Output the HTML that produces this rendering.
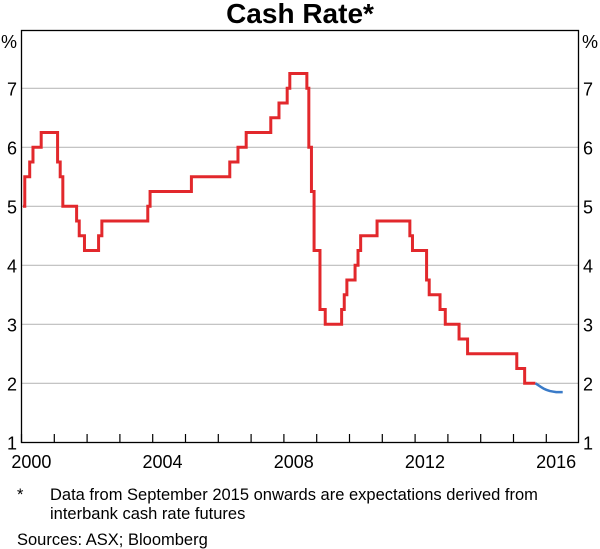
<!DOCTYPE html>
<html><head><meta charset="utf-8"><style>
body{margin:0;background:#fff;width:600px;height:549px;overflow:hidden;font-family:"Liberation Sans",Arial,sans-serif;}
svg{display:block}
</style></head><body>
<svg width="600" height="549" font-family="Liberation Sans, Arial, sans-serif">
<text x="300" y="23" text-anchor="middle" font-size="28" font-weight="bold">Cash Rate*</text>
<g id="grid"></g>
<g id="series"></g>
<rect x="21.5" y="30.5" width="557" height="412" fill="none" stroke="#000" stroke-width="1.3"/>
<g id="axes" font-size="18"></g>
<text x="1" y="48" font-size="18">%</text>
<text x="582" y="48" font-size="18">%</text>
<text x="17" y="500" font-size="16.5">*</text>
<text x="50" y="500" font-size="16.5">Data from September 2015 onwards are expectations derived from</text>
<text x="50" y="519" font-size="16.5">interbank cash rate futures</text>
<text x="17" y="545" font-size="16.5">Sources:  ASX; Bloomberg</text>
</svg>
<script>
const yTicks=[1,2,3,4,5,6,7];
const xTickYears=[2000,2001,2002,2003,2004,2005,2006,2007,2008,2009,2010,2011,2012,2013,2014,2015,2016];
const xLabelYears=[2000,2004,2008,2012,2016];
const rateDates=[1999.9,2000.1,2000.25,2000.35,2000.6,2001.1,2001.18,2001.26,2001.68,2001.76,2001.92,2002.35,2002.45,2003.85,2003.92,2005.18,2006.35,2006.6,2006.85,2007.6,2007.85,2008.1,2008.18,2008.7,2008.76,2008.84,2008.92,2009.1,2009.26,2009.76,2009.84,2009.92,2010.17,2010.26,2010.34,2010.84,2011.84,2011.92,2012.35,2012.43,2012.76,2012.92,2013.34,2013.6,2015.1,2015.34,2015.67];
const rateValues=[5.0,5.5,5.75,6.0,6.25,5.75,5.5,5.0,4.75,4.5,4.25,4.5,4.75,5.0,5.25,5.5,5.75,6.0,6.25,6.5,6.75,7.0,7.25,7.0,6.0,5.25,4.25,3.25,3.0,3.25,3.5,3.75,4.0,4.25,4.5,4.75,4.5,4.25,3.75,3.5,3.25,3.0,2.75,2.5,2.25,2.0,2.0];
const expDates=[2015.67,2015.75,2015.83,2015.92,2016.0,2016.1,2016.2,2016.3,2016.4,2016.5];
const expValues=[2.0,1.97,1.94,1.91,1.89,1.87,1.86,1.85,1.85,1.85];
const NS='http://www.w3.org/2000/svg';
const X=t=>21.5+(t-2000)*32.8;
const Y=v=>442.3-(v-1)*59;
function mk(tag,attrs,parent){const e=document.createElementNS(NS,tag);for(const k in attrs)e.setAttribute(k,attrs[k]);document.getElementById(parent).appendChild(e);return e;}
yTicks.forEach(v=>{
 if(v>1){const g=mk('line',{x1:21.5,x2:578.5,y1:Y(v),y2:Y(v),stroke:'#bbb','stroke-width':1.2},'grid');
 
 }
 const l=mk('text',{x:17,y:Y(v)+7,'text-anchor':'end'},'axes');l.textContent=v;
 
 
 const r=mk('text',{x:583,y:Y(v)+7},'axes');r.textContent=v;
 
 
});
xTickYears.forEach(y=>{
 const t=mk('line',{x1:X(y),x2:X(y),y1:442.3,y2:434,stroke:'#000','stroke-width':1.2},'axes');
 
 
});
xLabelYears.forEach(y=>{
 const t=mk('text',{x:X(y+0.3),y:468,'text-anchor':'middle'},'axes');t.textContent=y;
 
 
});
let d='';
for(let i=0;i<rateDates.length;i++){
 const x=Math.max(X(rateDates[i]),23);
 if(i===0)d+='M'+x+' '+Y(rateValues[i]);
 else d+=' H'+x+' V'+Y(rateValues[i]);
}
const red=mk('path',{d:d,fill:'none',stroke:'#e2282c','stroke-width':3},'series');


const bd=expDates.map((t,i)=>(i?'L':'M')+X(t)+' '+Y(expValues[i])).join(' ');
const blue=mk('path',{d:bd,fill:'none',stroke:'#3a7bc8','stroke-width':2.5},'series');


</script>
</body></html>
